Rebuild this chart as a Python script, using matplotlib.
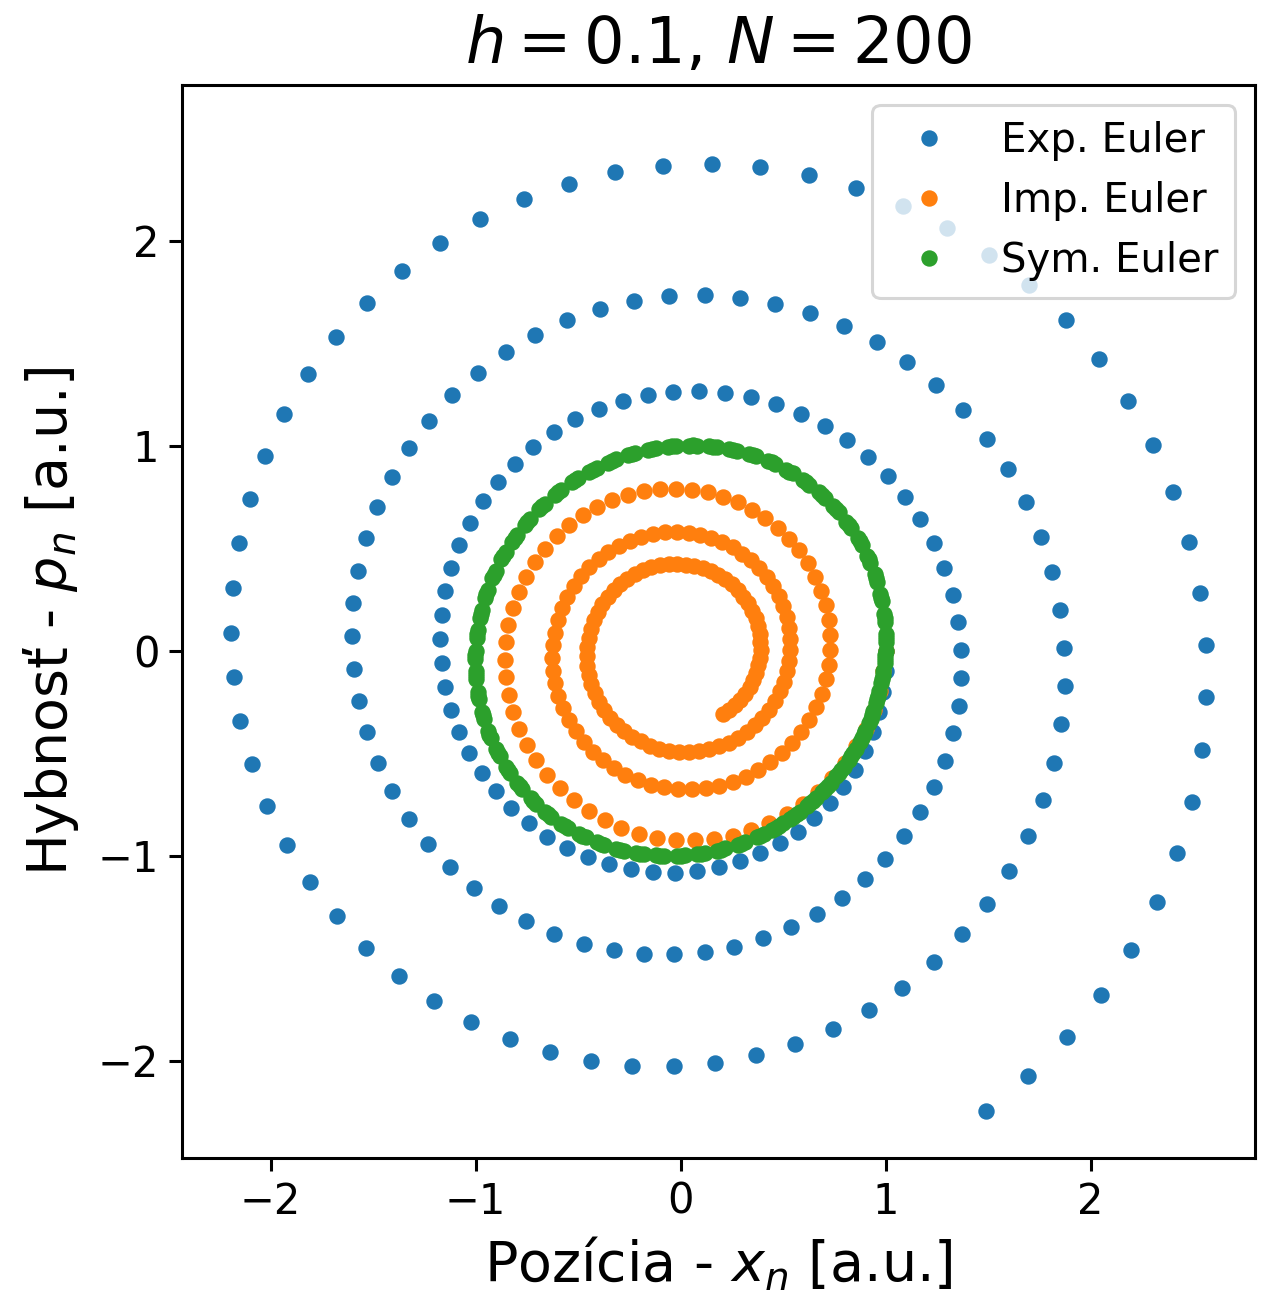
"""
Phase portrait of the harmonic oscillator: explicit, implicit and symplectic Euler.
h = 0.1, N = 200, start (x, p) = (1, 0).
"""
import matplotlib.pyplot as plt

# ── Data ──
exp_x = [
    1.000, 1.000, 0.990, 0.970, 0.940, 0.900, 0.852, 0.794, 0.727, 0.653,
    0.571, 0.483, 0.389, 0.290, 0.187, 0.081, -0.026, -0.134, -0.242, -0.349,
    -0.453, -0.554, -0.650, -0.741, -0.825, -0.902, -0.971, -1.030, -1.080, -1.119,
    -1.148, -1.166, -1.172, -1.166, -1.149, -1.120, -1.079, -1.028, -0.965, -0.892,
    -0.810, -0.719, -0.619, -0.513, -0.400, -0.282, -0.160, -0.035, 0.091, 0.218,
    0.344, 0.467, 0.588, 0.703, 0.813, 0.915, 1.010, 1.095, 1.170, 1.235,
    1.287, 1.327, 1.355, 1.369, 1.369, 1.356, 1.329, 1.289, 1.235, 1.169,
    1.090, 0.999, 0.898, 0.786, 0.666, 0.537, 0.402, 0.262, 0.117, -0.030,
    -0.178, -0.326, -0.472, -0.615, -0.753, -0.885, -1.009, -1.125, -1.230, -1.325,
    -1.407, -1.475, -1.530, -1.570, -1.595, -1.604, -1.596, -1.573, -1.534, -1.479,
    -1.409, -1.324, -1.225, -1.113, -0.989, -0.853, -0.708, -0.554, -0.393, -0.226,
    -0.055, 0.118, 0.291, 0.463, 0.633, 0.797, 0.956, 1.106, 1.247, 1.377,
    1.494, 1.598, 1.686, 1.759, 1.814, 1.853, 1.873, 1.874, 1.857, 1.821,
    1.766, 1.693, 1.603, 1.496, 1.372, 1.234, 1.082, 0.917, 0.742, 0.558,
    0.366, 0.169, -0.033, -0.235, -0.438, -0.638, -0.834, -1.023, -1.204, -1.375,
    -1.533, -1.678, -1.808, -1.921, -2.016, -2.091, -2.147, -2.181, -2.194, -2.185,
    -2.155, -2.102, -2.028, -1.933, -1.817, -1.682, -1.530, -1.360, -1.175, -0.976,
    -0.766, -0.545, -0.318, -0.084, 0.152, 0.390, 0.625, 0.857, 1.083, 1.300,
    1.506, 1.699, 1.878, 2.039, 2.181, 2.303, 2.403, 2.481, 2.534, 2.562,
    2.565, 2.542, 2.494, 2.420, 2.322, 2.199, 2.053, 1.885, 1.696, 1.489,
]
exp_p = [
    0.000, -0.100, -0.200, -0.299, -0.396, -0.490, -0.580, -0.665, -0.745, -0.817,
    -0.883, -0.940, -0.988, -1.027, -1.056, -1.075, -1.083, -1.080, -1.067, -1.043,
    -1.008, -0.962, -0.907, -0.842, -0.768, -0.685, -0.595, -0.498, -0.395, -0.287,
    -0.175, -0.060, 0.056, 0.173, 0.290, 0.405, 0.517, 0.625, 0.728, 0.824,
    0.913, 0.994, 1.066, 1.128, 1.179, 1.219, 1.248, 1.264, 1.267, 1.258,
    1.236, 1.202, 1.155, 1.096, 1.026, 0.945, 0.853, 0.752, 0.643, 0.526,
    0.402, 0.274, 0.141, 0.005, -0.132, -0.269, -0.404, -0.537, -0.666, -0.789,
    -0.906, -1.015, -1.115, -1.205, -1.284, -1.350, -1.404, -1.444, -1.470, -1.482,
    -1.479, -1.461, -1.429, -1.381, -1.320, -1.245, -1.156, -1.055, -0.943, -0.820,
    -0.687, -0.547, -0.399, -0.246, -0.089, 0.071, 0.231, 0.391, 0.548, 0.701,
    0.849, 0.990, 1.122, 1.245, 1.356, 1.455, 1.540, 1.611, 1.667, 1.706,
    1.729, 1.734, 1.722, 1.693, 1.647, 1.584, 1.504, 1.408, 1.298, 1.173,
    1.035, 0.886, 0.726, 0.557, 0.382, 0.200, 0.015, -0.173, -0.360, -0.546,
    -0.728, -0.904, -1.074, -1.234, -1.384, -1.521, -1.644, -1.752, -1.844, -1.918,
    -1.974, -2.011, -2.028, -2.024, -2.001, -1.957, -1.893, -1.810, -1.707, -1.587,
    -1.450, -1.296, -1.128, -0.948, -0.756, -0.554, -0.345, -0.130, 0.088, 0.307,
    0.526, 0.741, 0.952, 1.154, 1.348, 1.529, 1.698, 1.851, 1.987, 2.104,
    2.202, 2.278, 2.333, 2.365, 2.373, 2.358, 2.319, 2.256, 2.171, 2.062,
    1.932, 1.782, 1.612, 1.424, 1.220, 1.002, 0.772, 0.531, 0.283, 0.030,
    -0.226, -0.483, -0.737, -0.986, -1.228, -1.461, -1.681, -1.886, -2.074, -2.244,
]

imp_x = [
    1.000, 0.990, 0.971, 0.942, 0.904, 0.857, 0.802, 0.740, 0.671, 0.597,
    0.517, 0.432, 0.345, 0.255, 0.163, 0.070, -0.022, -0.113, -0.202, -0.289,
    -0.371, -0.449, -0.522, -0.589, -0.650, -0.703, -0.749, -0.787, -0.817, -0.839,
    -0.852, -0.856, -0.852, -0.840, -0.819, -0.790, -0.754, -0.711, -0.661, -0.605,
    -0.544, -0.478, -0.408, -0.334, -0.258, -0.180, -0.101, -0.022, 0.056, 0.134,
    0.209, 0.281, 0.350, 0.414, 0.474, 0.529, 0.578, 0.621, 0.657, 0.686,
    0.708, 0.723, 0.730, 0.731, 0.724, 0.710, 0.689, 0.661, 0.628, 0.588,
    0.543, 0.493, 0.438, 0.380, 0.319, 0.255, 0.189, 0.122, 0.054, -0.013,
    -0.080, -0.145, -0.208, -0.269, -0.326, -0.380, -0.429, -0.473, -0.512, -0.546,
    -0.574, -0.596, -0.612, -0.622, -0.626, -0.623, -0.614, -0.599, -0.579, -0.553,
    -0.521, -0.485, -0.445, -0.400, -0.352, -0.301, -0.247, -0.191, -0.135, -0.077,
    -0.019, 0.039, 0.095, 0.150, 0.203, 0.254, 0.301, 0.345, 0.385, 0.421,
    0.452, 0.479, 0.501, 0.517, 0.528, 0.534, 0.535, 0.530, 0.520, 0.505,
    0.485, 0.460, 0.432, 0.399, 0.362, 0.323, 0.280, 0.235, 0.189, 0.140,
    0.091, 0.042, -0.007, -0.056, -0.104, -0.150, -0.195, -0.237, -0.276, -0.312,
    -0.345, -0.374, -0.398, -0.419, -0.435, -0.447, -0.455, -0.458, -0.456, -0.449,
    -0.439, -0.424, -0.405, -0.382, -0.356, -0.326, -0.294, -0.259, -0.221, -0.182,
    -0.142, -0.100, -0.058, -0.015, 0.027, 0.068, 0.108, 0.147, 0.184, 0.219,
    0.251, 0.281, 0.307, 0.330, 0.350, 0.366, 0.378, 0.386, 0.390, 0.391,
    0.388, 0.380, 0.369, 0.355, 0.337, 0.316, 0.292, 0.266, 0.237, 0.206,
]
imp_p = [
    0.000, -0.099, -0.196, -0.290, -0.381, -0.466, -0.547, -0.621, -0.688, -0.747,
    -0.799, -0.842, -0.877, -0.902, -0.918, -0.925, -0.923, -0.912, -0.892, -0.863,
    -0.826, -0.781, -0.729, -0.670, -0.605, -0.535, -0.460, -0.381, -0.299, -0.215,
    -0.130, -0.045, 0.041, 0.125, 0.207, 0.286, 0.361, 0.432, 0.498, 0.559,
    0.613, 0.661, 0.702, 0.735, 0.761, 0.779, 0.789, 0.791, 0.786, 0.772,
    0.751, 0.723, 0.688, 0.647, 0.599, 0.546, 0.489, 0.427, 0.361, 0.292,
    0.221, 0.149, 0.076, 0.003, -0.069, -0.140, -0.209, -0.275, -0.338, -0.397,
    -0.451, -0.501, -0.544, -0.582, -0.614, -0.640, -0.659, -0.671, -0.676, -0.675,
    -0.667, -0.653, -0.632, -0.605, -0.572, -0.534, -0.492, -0.444, -0.393, -0.338,
    -0.281, -0.221, -0.160, -0.098, -0.035, 0.027, 0.088, 0.148, 0.206, 0.261,
    0.314, 0.362, 0.406, 0.446, 0.482, 0.512, 0.536, 0.556, 0.569, 0.577,
    0.579, 0.575, 0.565, 0.550, 0.530, 0.505, 0.474, 0.440, 0.401, 0.359,
    0.314, 0.266, 0.216, 0.164, 0.112, 0.058, 0.005, -0.048, -0.100, -0.151,
    -0.199, -0.245, -0.288, -0.328, -0.365, -0.397, -0.425, -0.448, -0.467, -0.481,
    -0.490, -0.495, -0.494, -0.488, -0.478, -0.463, -0.443, -0.420, -0.392, -0.361,
    -0.326, -0.289, -0.249, -0.207, -0.164, -0.119, -0.074, -0.028, 0.018, 0.063,
    0.107, 0.149, 0.190, 0.228, 0.263, 0.296, 0.325, 0.351, 0.373, 0.392,
    0.406, 0.416, 0.421, 0.423, 0.420, 0.414, 0.403, 0.388, 0.370, 0.348,
    0.323, 0.295, 0.264, 0.231, 0.196, 0.159, 0.122, 0.083, 0.044, 0.005,
    -0.034, -0.072, -0.109, -0.144, -0.178, -0.210, -0.239, -0.265, -0.289, -0.310,
]

sym_x = [
    1.000, 0.990, 0.970, 0.941, 0.902, 0.854, 0.797, 0.732, 0.661, 0.582,
    0.498, 0.408, 0.315, 0.219, 0.120, 0.020, -0.080, -0.180, -0.277, -0.372,
    -0.463, -0.549, -0.630, -0.705, -0.772, -0.832, -0.883, -0.926, -0.960, -0.983,
    -0.997, -1.001, -0.995, -0.979, -0.954, -0.918, -0.874, -0.821, -0.759, -0.690,
    -0.614, -0.532, -0.445, -0.353, -0.258, -0.160, -0.060, 0.040, 0.140, 0.238,
    0.334, 0.427, 0.515, 0.598, 0.675, 0.746, 0.809, 0.864, 0.910, 0.947,
    0.975, 0.993, 1.001, 0.999, 0.987, 0.965, 0.934, 0.893, 0.843, 0.785,
    0.719, 0.645, 0.566, 0.480, 0.390, 0.296, 0.199, 0.100, 0.001, -0.099,
    -0.198, -0.295, -0.389, -0.480, -0.565, -0.645, -0.718, -0.784, -0.843, -0.892,
    -0.933, -0.965, -0.987, -0.999, -1.001, -0.993, -0.975, -0.948, -0.911, -0.864,
    -0.810, -0.747, -0.676, -0.599, -0.516, -0.428, -0.335, -0.239, -0.141, -0.041,
    0.059, 0.159, 0.257, 0.352, 0.444, 0.531, 0.614, 0.690, 0.759, 0.820,
    0.873, 0.918, 0.953, 0.979, 0.995, 1.002, 0.998, 0.984, 0.960, 0.927,
    0.884, 0.833, 0.773, 0.705, 0.631, 0.550, 0.464, 0.373, 0.278, 0.180,
    0.081, -0.019, -0.119, -0.218, -0.314, -0.408, -0.497, -0.581, -0.660, -0.732,
    -0.797, -0.853, -0.901, -0.940, -0.970, -0.990, -1.000, -1.000, -0.990, -0.971,
    -0.941, -0.902, -0.854, -0.798, -0.733, -0.662, -0.583, -0.499, -0.410, -0.317,
    -0.220, -0.121, -0.021, 0.079, 0.178, 0.276, 0.370, 0.461, 0.548, 0.629,
    0.704, 0.771, 0.831, 0.883, 0.926, 0.959, 0.983, 0.997, 1.001, 0.996,
    0.980, 0.954, 0.919, 0.875, 0.821, 0.760, 0.691, 0.615, 0.533, 0.446,
]
sym_p = [
    0.000, -0.100, -0.199, -0.296, -0.390, -0.480, -0.566, -0.645, -0.719, -0.785,
    -0.843, -0.893, -0.934, -0.965, -0.987, -0.999, -1.001, -0.993, -0.975, -0.947,
    -0.910, -0.864, -0.809, -0.746, -0.675, -0.598, -0.515, -0.427, -0.334, -0.238,
    -0.140, -0.040, 0.060, 0.160, 0.258, 0.353, 0.445, 0.532, 0.614, 0.690,
    0.759, 0.821, 0.874, 0.918, 0.954, 0.979, 0.995, 1.001, 0.997, 0.983,
    0.960, 0.926, 0.883, 0.832, 0.772, 0.705, 0.630, 0.549, 0.463, 0.372,
    0.277, 0.180, 0.080, -0.020, -0.120, -0.219, -0.315, -0.408, -0.498, -0.582,
    -0.661, -0.732, -0.797, -0.854, -0.902, -0.941, -0.970, -0.990, -1.000, -1.000,
    -0.990, -0.970, -0.941, -0.902, -0.854, -0.798, -0.733, -0.661, -0.583, -0.499,
    -0.409, -0.316, -0.220, -0.121, -0.021, 0.079, 0.179, 0.276, 0.371, 0.462,
    0.548, 0.629, 0.704, 0.772, 0.832, 0.883, 0.926, 0.959, 0.983, 0.997,
    1.002, 0.996, 0.980, 0.954, 0.919, 0.874, 0.821, 0.760, 0.691, 0.615,
    0.533, 0.446, 0.354, 0.259, 0.161, 0.061, -0.039, -0.139, -0.237, -0.333,
    -0.426, -0.514, -0.598, -0.675, -0.745, -0.809, -0.864, -0.910, -0.947, -0.975,
    -0.993, -1.001, -0.999, -0.987, -0.966, -0.934, -0.893, -0.844, -0.786, -0.720,
    -0.646, -0.567, -0.481, -0.391, -0.297, -0.200, -0.101, -0.001, 0.099, 0.198,
    0.295, 0.389, 0.479, 0.565, 0.644, 0.718, 0.784, 0.842, 0.892, 0.933,
    0.965, 0.987, 0.999, 1.001, 0.993, 0.975, 0.948, 0.911, 0.865, 0.810,
    0.747, 0.677, 0.599, 0.516, 0.428, 0.335, 0.240, 0.141, 0.042, -0.059,
    -0.158, -0.256, -0.352, -0.444, -0.531, -0.613, -0.689, -0.758, -0.820, -0.873,
]

labels = ["Exp. Euler", "Imp. Euler", "Sym. Euler"]
title = "$h = 0.1$, $N = 200$"

# ── Plot ──
fig = plt.figure(figsize=(6.33, 6.475))
ax = fig.add_axes([0.1438, 0.1058, 0.8476, 0.8286])

ax.plot(exp_x, exp_p, "o", ls="none", ms=4.9, color="tab:blue", label=labels[0])
ax.plot(imp_x, imp_p, "o", ls="none", ms=4.9, color="tab:orange", label=labels[1])
ax.plot(sym_x, sym_p, "o", ls="none", ms=4.9, color="tab:green", label=labels[2])

ax.set_xlim(-2.432, 2.803)
ax.set_ylim(-2.475, 2.760)
ax.set_xticks([-2, -1, 0, 1, 2])
ax.set_yticks([-2, -1, 0, 1, 2])

ax.set_title(title, fontsize=23, pad=8)
ax.set_xlabel("Pozícia - $x_n$ [a.u.]", fontsize=20, labelpad=4.5)
ax.set_ylabel("Hybnosť - $p_n$ [a.u.]", fontsize=20, labelpad=6)
ax.tick_params(labelsize=15, length=4.7, width=1.1)
for s in ax.spines.values():
    s.set_linewidth(1.1)

leg = ax.legend(loc="upper right", fontsize=14.5)
leg.get_frame().set_linewidth(1.1)

fig.savefig("out.png", dpi=200)
